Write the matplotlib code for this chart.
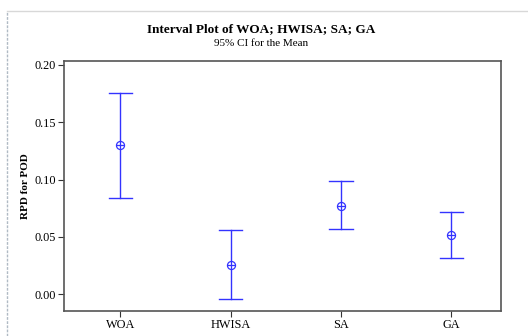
import matplotlib
matplotlib.use('Agg')
import matplotlib.pyplot as plt
from matplotlib.lines import Line2D

plt.rcParams['font.family'] = ['Liberation Serif', 'DejaVu Serif']

groups = ['WOA', 'HWISA', 'SA', 'GA']
means = [0.130, 0.0255, 0.0772, 0.0519]
lower = [0.0836, -0.0041, 0.0566, 0.0319]
upper = [0.1756, 0.0557, 0.0984, 0.0714]

W, H = 528, 336
fig = plt.figure(figsize=(W / 100, H / 100), dpi=100)
ax = fig.add_axes([64 / W, 1 - 311 / H, (501 - 64) / W, (311 - 61) / H])

blue = '#3333ff'
x = list(range(1, len(groups) + 1))
for xi, m, lo, hi in zip(x, means, lower, upper):
    ax.plot([xi, xi], [lo, hi], color=blue, lw=1.0)
    for yv in (lo, hi):
        ax.plot([xi - 0.106, xi + 0.106], [yv, yv], color=blue, lw=1.0)
ax.plot(x, means, 'o', ms=5.8, mfc='white', mec=blue, mew=0.9, ls='none')
ax.plot(x, means, '+', ms=5.8, color=blue, mew=0.9, ls='none')

ax.set_xlim(0.49, 4.45)
ax.set_ylim(-0.0145, 0.2032)
ax.set_xticks(x)
ax.set_xticklabels(groups)
ax.set_yticks([0.0, 0.05, 0.10, 0.15, 0.20])
ax.set_yticklabels(['0.00', '0.05', '0.10', '0.15', '0.20'])
ax.tick_params(direction='out', length=4, width=0.8, labelsize=8.8, color='#333', pad=2)
for sp in ax.spines.values():
    sp.set_color('#555')
    sp.set_linewidth(1.2)
ax.set_ylabel('RPD for POD', fontsize=8, fontweight='bold', labelpad=3)

fig.text(261 / W, 1 - 29 / H, 'Interval Plot of WOA; HWISA; SA; GA', ha='center', va='center',
         fontsize=9.5, fontweight='bold')
fig.text(261 / W, 1 - 44 / H, '95% CI for the Mean', ha='center', va='center', fontsize=8)

# outer frame lines
fig.add_artist(Line2D([7 / W, 1], [1 - 11 / H, 1 - 11 / H], color='#d8d8d8', lw=1.0))
fig.add_artist(Line2D([7 / W, 7 / W], [0, 1 - 11 / H], color='#b0bac4', lw=1.0, ls=(0, (2, 1))))

fig.savefig('out.png', dpi=100)
